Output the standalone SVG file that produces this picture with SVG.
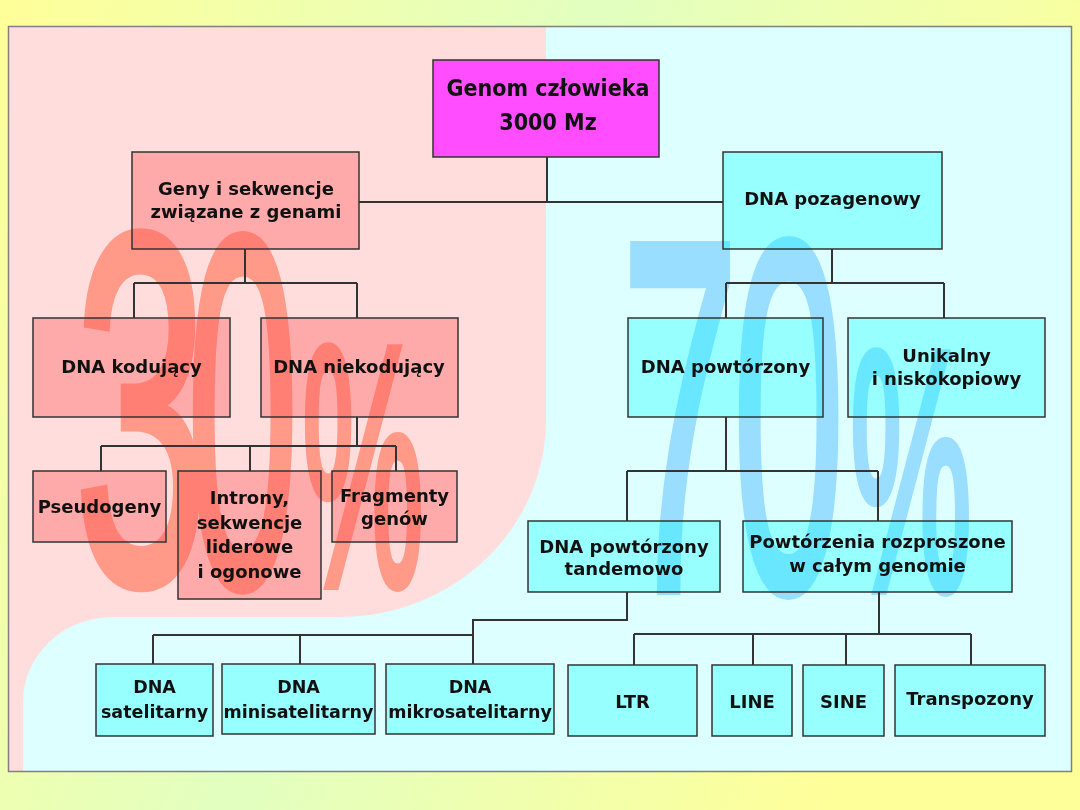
<svg xmlns="http://www.w3.org/2000/svg" width="1080" height="810" viewBox="0 0 1080 810">
<defs>
<linearGradient id="bg" x1="0" y1="0" x2="1" y2="0.35">
<stop offset="0" stop-color="#FFFF99"/>
<stop offset="0.5" stop-color="#E2FFC0"/>
<stop offset="1" stop-color="#FFFF99"/>
</linearGradient>
<style>
.pk{fill:#FF5555;fill-opacity:0.375;stroke:#333;stroke-width:1.5}
.cy{fill:#00FFFF;fill-opacity:0.31;stroke:#333;stroke-width:1.5}
.t{font-family:"DejaVu Sans","Liberation Sans",sans-serif;font-weight:bold;font-size:18px;fill:#111;text-anchor:middle}
.s{font-size:17.5px}
.g{font-family:"DejaVu Sans Condensed","DejaVu Sans",sans-serif;font-size:23px}
.c{fill:none;stroke:#333;stroke-width:2}
.wm{font-family:"Liberation Sans",Arial,sans-serif;font-size:200px}
.pc{font-size:137px}
.r{fill:#FF5533;stroke:#FF5533;stroke-width:4}
.b{fill:#55BBFF;stroke:#55BBFF;stroke-width:4}
</style>
</defs>
<rect x="0" y="0" width="1080" height="810" fill="url(#bg)"/>
<g id="panel">
<rect x="8.5" y="26.5" width="1063" height="745" fill="#DDFFFF"/>
<path d="M8.5,26.5 H546 V420 A206,197 0 0 1 340,617 H113 A90,85 0 0 0 23,702 V771.5 H8.5 Z" fill="#FFDDDD"/>
<rect x="8.5" y="26.5" width="1063" height="745" fill="none" stroke="#808080" stroke-width="1.5"/>
</g>
<g id="watermark-30" opacity="0.5">
<text class="wm r" transform="scale(1.2,2.5)" x="62" y="233">3</text>
<text class="wm r" transform="scale(1,2.5)" x="187" y="234">0</text>
<text class="wm pc r" transform="scale(1,2.5)" x="302" y="234">%</text>
</g>
<g id="watermark-70" opacity="0.5">
<text class="wm b" transform="scale(1.05,2.5)" x="592" y="236">7</text>
<text class="wm b" transform="scale(1,2.5)" x="733" y="236">0</text>
<text class="wm pc b" transform="scale(1,2.5)" x="850" y="236">%</text>
</g>
<g id="connectors">
<path class="c" d="M547,157 V202 M359,202 H723"/>
<path class="c" d="M245,249 V283 M134,283 H357 M134,283 V318 M357,283 V318"/>
<path class="c" d="M357,417 V446 M101,446 H396 M101,446 V471 M250,446 V471 M396,446 V471"/>
<path class="c" d="M832,249 V283 M726,283 H944 M726,283 V318 M944,283 V318"/>
<path class="c" d="M726,417 V471 M627,471 H878 M627,471 V521 M878,471 V521"/>
<path class="c" d="M627,592 V620 H473 V664 M153,635 H473 M153,635 V664 M300,635 V664"/>
<path class="c" d="M879,592 V634 M634,634 H971 M634,634 V665 M753,634 V665 M846,634 V665 M971,634 V665"/>
</g>
<g id="genom">
<rect x="433" y="60" width="226" height="97" fill="#FF4DFF" stroke="#333" stroke-width="1.5"/>
<text class="t g" x="548" y="96">Genom człowieka</text>
<text class="t g" x="548" y="130">3000 Mz</text>
</g>
<g id="geny">
<rect class="pk" x="132" y="152" width="227" height="97"/>
<text class="t" x="246" y="195">Geny i sekwencje</text>
<text class="t" x="246" y="218">związane z genami</text>
</g>
<g id="pozagenowy">
<rect class="cy" x="723" y="152" width="219" height="97"/>
<text class="t" x="832.5" y="205">DNA pozagenowy</text>
</g>
<g id="kodujacy">
<rect class="pk" x="33" y="318" width="197" height="99"/>
<text class="t" x="131.5" y="373">DNA kodujący</text>
</g>
<g id="niekodujacy">
<rect class="pk" x="261" y="318" width="197" height="99"/>
<text class="t" x="359" y="373">DNA niekodujący</text>
</g>
<g id="pseudogeny">
<rect class="pk" x="33" y="471" width="133" height="71"/>
<text class="t" x="99.5" y="513">Pseudogeny</text>
</g>
<g id="introny">
<rect class="pk" x="178" y="471" width="143" height="128"/>
<text class="t" x="249.5" y="504">Introny,</text>
<text class="t" x="249.5" y="529">sekwencje</text>
<text class="t" x="249.5" y="553">liderowe</text>
<text class="t" x="249.5" y="578">i ogonowe</text>
</g>
<g id="fragmenty">
<rect class="pk" x="332" y="471" width="125" height="71"/>
<text class="t" x="394.5" y="502">Fragmenty</text>
<text class="t" x="394.5" y="525">genów</text>
</g>
<g id="powtorzony">
<rect class="cy" x="628" y="318" width="195" height="99"/>
<text class="t" x="725.5" y="373">DNA powtórzony</text>
</g>
<g id="unikalny">
<rect class="cy" x="848" y="318" width="197" height="99"/>
<text class="t" x="946.5" y="362">Unikalny</text>
<text class="t" x="946.5" y="385">i niskokopiowy</text>
</g>
<g id="tandemowo">
<rect class="cy" x="528" y="521" width="192" height="71"/>
<text class="t" x="624" y="553">DNA powtórzony</text>
<text class="t" x="624" y="575">tandemowo</text>
</g>
<g id="rozproszone">
<rect class="cy" x="743" y="521" width="269" height="71"/>
<text class="t" x="877.5" y="548">Powtórzenia rozproszone</text>
<text class="t" x="877.5" y="572">w całym genomie</text>
</g>
<g id="satelitarny">
<rect class="cy" x="96" y="664" width="117" height="72"/>
<text class="t s" x="154.5" y="693">DNA</text>
<text class="t s" x="154.5" y="718">satelitarny</text>
</g>
<g id="minisatelitarny">
<rect class="cy" x="222" y="664" width="153" height="70"/>
<text class="t s" x="298.5" y="693">DNA</text>
<text class="t s" x="298.5" y="718">minisatelitarny</text>
</g>
<g id="mikrosatelitarny">
<rect class="cy" x="386" y="664" width="168" height="70"/>
<text class="t s" x="470" y="693">DNA</text>
<text class="t s" x="470" y="718">mikrosatelitarny</text>
</g>
<g id="ltr">
<rect class="cy" x="568" y="665" width="129" height="71"/>
<text class="t" x="632.5" y="708">LTR</text>
</g>
<g id="line">
<rect class="cy" x="712" y="665" width="80" height="71"/>
<text class="t" x="752" y="708">LINE</text>
</g>
<g id="sine">
<rect class="cy" x="803" y="665" width="81" height="71"/>
<text class="t" x="843.5" y="708">SINE</text>
</g>
<g id="transpozony">
<rect class="cy" x="895" y="665" width="150" height="71"/>
<text class="t" x="970" y="705">Transpozony</text>
</g>
</svg>
